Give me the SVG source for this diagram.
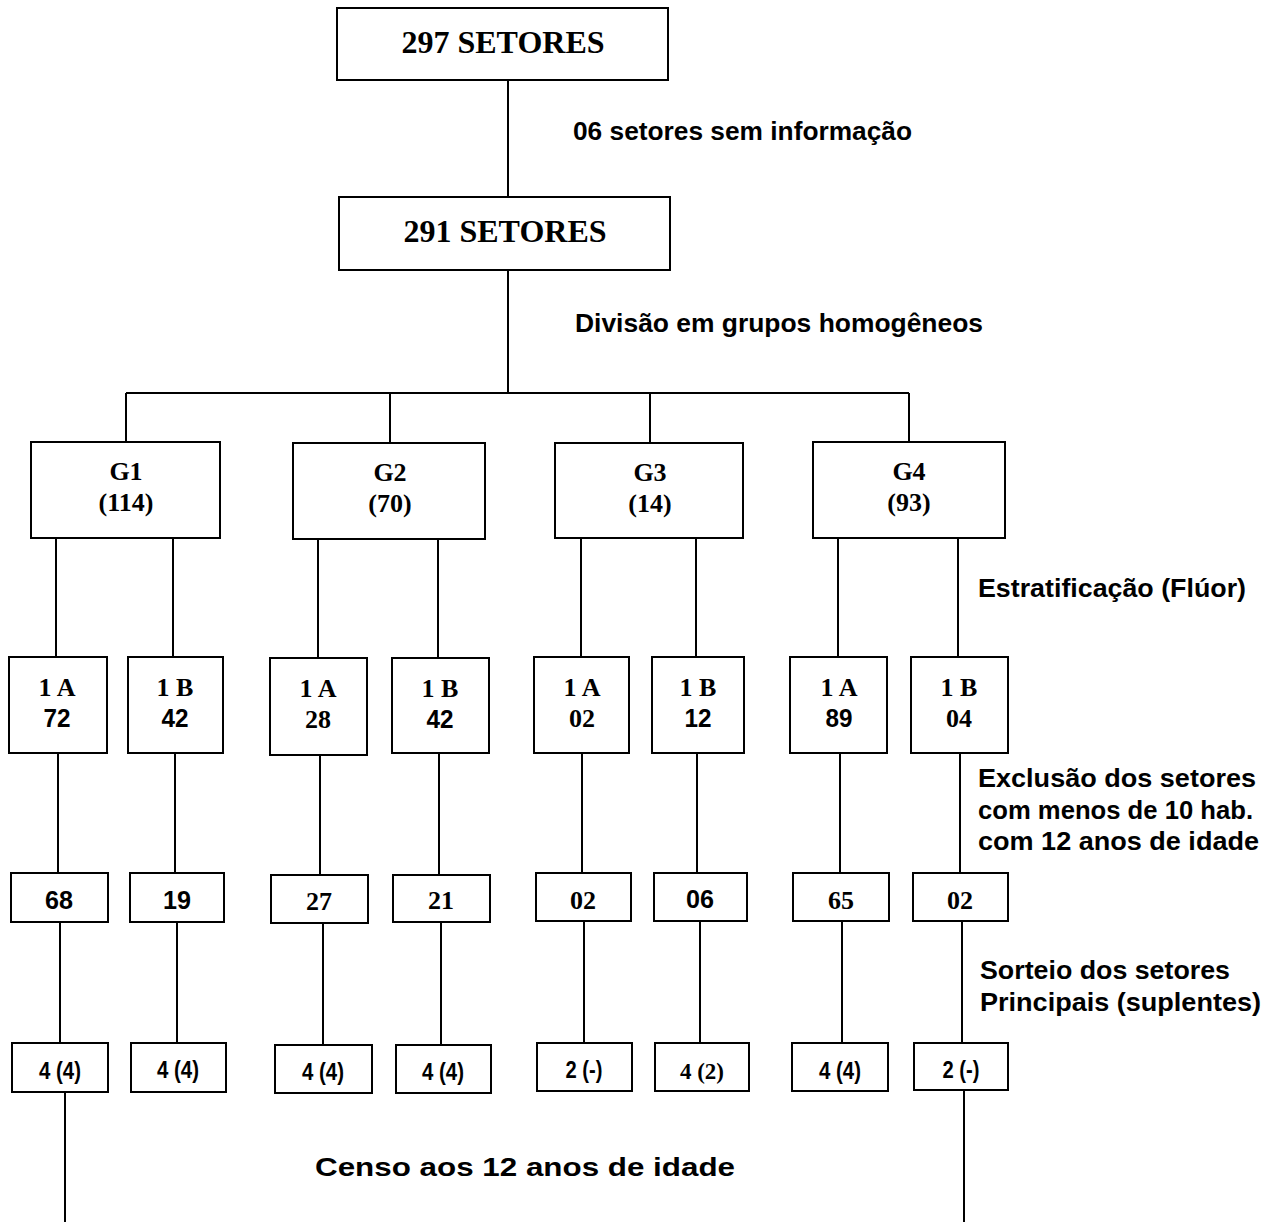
<svg xmlns="http://www.w3.org/2000/svg" width="1284" height="1227" viewBox="0 0 1284 1227">
<style>
.box{fill:#fff;stroke:#000;stroke-width:2}
.ln{stroke:#000;stroke-width:2;fill:none}
.sr{font-family:"Liberation Serif","Times New Roman",serif;font-weight:bold;fill:#000;text-anchor:middle}
.ss{font-family:"Liberation Sans",Arial,sans-serif;font-weight:bold;fill:#000;text-anchor:middle}
.lb{font-family:"Liberation Sans",Arial,sans-serif;font-weight:bold;fill:#000;font-size:25px}
</style>
<rect width="1284" height="1227" fill="#fff"/>
<g id="connectors">
<path class="ln" d="M508 80V197M508 270V393M126 393H909M126 393V442M390 393V443M650 393V443M909 393V442"/>
<path class="ln" d="M56 538V657M173 538V657M318 539V658M438 539V658M581 538V657M696 538V657M838 538V657M958 538V657"/>
<path class="ln" d="M58 753V873M175 753V873M320 755V875M439 753V875M582 753V873M697 753V873M840 753V873M960 753V873"/>
<path class="ln" d="M60 922V1043M177 922V1043M323 923V1045M441 922V1045M584 921V1043M700 921V1043M842 921V1043M962 921V1043"/>
<path class="ln" d="M65 1092V1222M964 1090V1222"/>
</g>
<g id="n297"><rect class="box" x="337" y="8" width="331" height="72"/><text class="sr" x="503" y="53" font-size="32">297 SETORES</text></g>
<g id="n291"><rect class="box" x="339" y="197" width="331" height="73"/><text class="sr" x="505" y="242" font-size="32">291 SETORES</text></g>
<g id="g1"><rect class="box" x="31" y="442" width="189" height="96"/><text class="sr" x="126" y="480" font-size="26">G1</text><text class="sr" x="126" y="511" font-size="26">(114)</text></g>
<g id="g2"><rect class="box" x="293" y="443" width="192" height="96"/><text class="sr" x="390" y="481" font-size="26">G2</text><text class="sr" x="390" y="512" font-size="26">(70)</text></g>
<g id="g3"><rect class="box" x="555" y="443" width="188" height="95"/><text class="sr" x="650" y="481" font-size="26">G3</text><text class="sr" x="650" y="512" font-size="26">(14)</text></g>
<g id="g4"><rect class="box" x="813" y="442" width="192" height="96"/><text class="sr" x="909" y="480" font-size="26">G4</text><text class="sr" x="909" y="511" font-size="26">(93)</text></g>
<g id="g1a"><rect class="box" x="9" y="657" width="98" height="96"/><text class="sr" x="57" y="696" font-size="26">1 A</text><text class="ss" x="57" y="727" font-size="25" textLength="27" lengthAdjust="spacingAndGlyphs">72</text></g>
<g id="g1b"><rect class="box" x="128" y="657" width="95" height="96"/><text class="sr" x="175" y="696" font-size="26">1 B</text><text class="ss" x="175" y="727" font-size="25" textLength="27" lengthAdjust="spacingAndGlyphs">42</text></g>
<g id="g2a"><rect class="box" x="270" y="658" width="97" height="97"/><text class="sr" x="318" y="697" font-size="26">1 A</text><text class="sr" x="318" y="728" font-size="26">28</text></g>
<g id="g2b"><rect class="box" x="392" y="658" width="97" height="95"/><text class="sr" x="440" y="697" font-size="26">1 B</text><text class="ss" x="440" y="728" font-size="25" textLength="27" lengthAdjust="spacingAndGlyphs">42</text></g>
<g id="g3a"><rect class="box" x="534" y="657" width="95" height="96"/><text class="sr" x="582" y="696" font-size="26">1 A</text><text class="sr" x="582" y="727" font-size="26">02</text></g>
<g id="g3b"><rect class="box" x="652" y="657" width="92" height="96"/><text class="sr" x="698" y="696" font-size="26">1 B</text><text class="ss" x="698" y="727" font-size="25" textLength="27" lengthAdjust="spacingAndGlyphs">12</text></g>
<g id="g4a"><rect class="box" x="790" y="657" width="97" height="96"/><text class="sr" x="839" y="696" font-size="26">1 A</text><text class="ss" x="839" y="727" font-size="25" textLength="27" lengthAdjust="spacingAndGlyphs">89</text></g>
<g id="g4b"><rect class="box" x="911" y="657" width="97" height="96"/><text class="sr" x="959" y="696" font-size="26">1 B</text><text class="sr" x="959" y="727" font-size="26">04</text></g>
<g id="e68"><rect class="box" x="11" y="873" width="97" height="49"/><text class="ss" x="59" y="909" font-size="26" textLength="28" lengthAdjust="spacingAndGlyphs">68</text></g>
<g id="e19"><rect class="box" x="130" y="873" width="94" height="49"/><text class="ss" x="177" y="909" font-size="26" textLength="28" lengthAdjust="spacingAndGlyphs">19</text></g>
<g id="e27"><rect class="box" x="271" y="875" width="97" height="48"/><text class="sr" x="319" y="910" font-size="26">27</text></g>
<g id="e21"><rect class="box" x="393" y="875" width="97" height="47"/><text class="sr" x="441" y="909" font-size="26">21</text></g>
<g id="e02a"><rect class="box" x="536" y="873" width="95" height="48"/><text class="sr" x="583" y="909" font-size="26">02</text></g>
<g id="e06"><rect class="box" x="654" y="873" width="93" height="48"/><text class="ss" x="700" y="908" font-size="26" textLength="28" lengthAdjust="spacingAndGlyphs">06</text></g>
<g id="e65"><rect class="box" x="793" y="873" width="96" height="48"/><text class="sr" x="841" y="909" font-size="26">65</text></g>
<g id="e02b"><rect class="box" x="913" y="873" width="95" height="48"/><text class="sr" x="960" y="909" font-size="26">02</text></g>
<g id="s1"><rect class="box" x="12" y="1043" width="96" height="49"/><text class="ss" x="60" y="1079" font-size="23" textLength="42" lengthAdjust="spacingAndGlyphs">4 (4)</text></g>
<g id="s2"><rect class="box" x="131" y="1043" width="95" height="49"/><text class="ss" x="178" y="1078" font-size="23" textLength="42" lengthAdjust="spacingAndGlyphs">4 (4)</text></g>
<g id="s3"><rect class="box" x="275" y="1045" width="97" height="48"/><text class="ss" x="323" y="1080" font-size="23" textLength="42" lengthAdjust="spacingAndGlyphs">4 (4)</text></g>
<g id="s4"><rect class="box" x="396" y="1045" width="95" height="48"/><text class="ss" x="443" y="1080" font-size="23" textLength="42" lengthAdjust="spacingAndGlyphs">4 (4)</text></g>
<g id="s5"><rect class="box" x="537" y="1043" width="95" height="48"/><text class="ss" x="584" y="1078" font-size="23" textLength="37" lengthAdjust="spacingAndGlyphs">2 (-)</text></g>
<g id="s6"><rect class="box" x="655" y="1043" width="94" height="48"/><text class="sr" x="702" y="1079" font-size="23">4 (2)</text></g>
<g id="s7"><rect class="box" x="792" y="1043" width="96" height="48"/><text class="ss" x="840" y="1079" font-size="23" textLength="42" lengthAdjust="spacingAndGlyphs">4 (4)</text></g>
<g id="s8"><rect class="box" x="914" y="1043" width="94" height="47"/><text class="ss" x="961" y="1078" font-size="23" textLength="37" lengthAdjust="spacingAndGlyphs">2 (-)</text></g>
<g id="labels">
<text class="lb" x="573" y="140" textLength="339" lengthAdjust="spacingAndGlyphs">06 setores sem informação</text>
<text class="lb" x="575" y="332" textLength="408" lengthAdjust="spacingAndGlyphs">Divisão em grupos homogêneos</text>
<text class="lb" x="978" y="597" textLength="268" lengthAdjust="spacingAndGlyphs">Estratificação (Flúor)</text>
<text class="lb" x="978" y="787" textLength="278" lengthAdjust="spacingAndGlyphs">Exclusão dos setores</text>
<text class="lb" x="978" y="819" textLength="275" lengthAdjust="spacingAndGlyphs">com menos de 10 hab.</text>
<text class="lb" x="978" y="850" textLength="281" lengthAdjust="spacingAndGlyphs">com 12 anos de idade</text>
<text class="lb" x="980" y="979" textLength="250" lengthAdjust="spacingAndGlyphs">Sorteio dos setores</text>
<text class="lb" x="980" y="1011" textLength="281" lengthAdjust="spacingAndGlyphs">Principais (suplentes)</text>
<text class="lb" x="315" y="1176" font-size="30" textLength="420" lengthAdjust="spacingAndGlyphs">Censo aos 12 anos de idade</text>
</g>
</svg>
